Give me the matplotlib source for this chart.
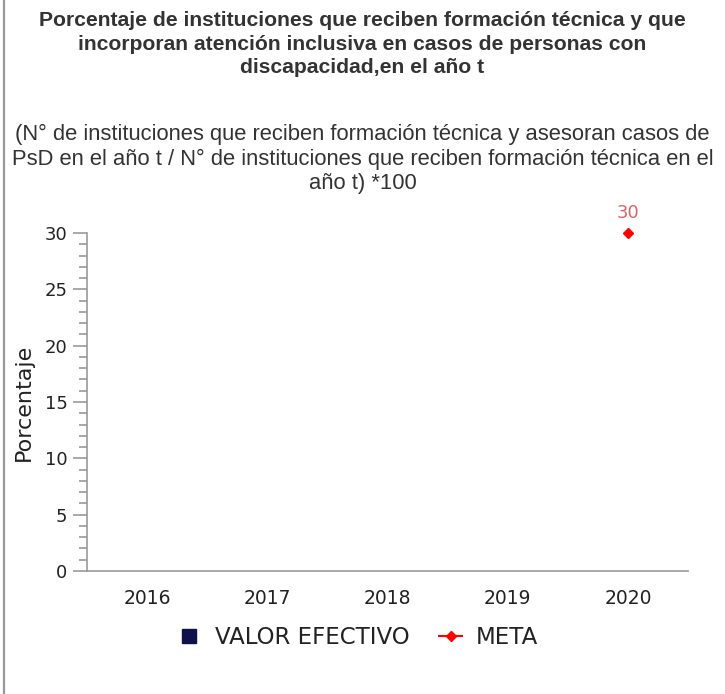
import numpy as np
import matplotlib.pyplot as plt
from matplotlib.lines import Line2D
from matplotlib.ticker import MultipleLocator

years = ["2016", "2017", "2018", "2019", "2020"]
valor_efectivo = [np.nan, np.nan, np.nan, np.nan, np.nan]
meta = [np.nan, np.nan, np.nan, np.nan, 30]

title = ("Porcentaje de instituciones que reciben formación técnica y que\n"
         "incorporan atención inclusiva en casos de personas con\n"
         "discapacidad,en el año t")
subtitle = ("(N° de instituciones que reciben formación técnica y asesoran casos de\n"
            "PsD en el año t / N° de instituciones que reciben formación técnica en el\n"
            "año t) *100")

fig = plt.figure(figsize=(7.25, 6.94), dpi=100)
fig.patch.set_facecolor("white")

# left border of the frame
fig.add_artist(Line2D([3.5 / 725, 3.5 / 725], [0, 1], color="#999999", lw=1.6))

fig.text(0.5, 1 - 44 / 694, title, ha="center", va="center",
         family="Liberation Sans", weight="bold", fontsize=15.2, color="#333333",
         linespacing=1.28)
fig.text(0.5, 1 - 159 / 694, subtitle, ha="center", va="center",
         family="Liberation Sans", fontsize=15.8, color="#333333",
         linespacing=1.24)

ax = fig.add_axes([87 / 725, 123 / 694, 601 / 725, 338 / 694])
x = np.arange(len(years))

ax.bar(x, valor_efectivo, width=0.6, color="#10104a")
ax.plot(x, meta, color="red", marker="D", markersize=5, lw=1.5, clip_on=False)
for xi, v in zip(x, meta):
    if not np.isnan(v):
        ax.text(xi, v + 1.0, f"{v:g}", ha="center", va="bottom",
                color="#d96666", fontsize=13)

ax.set_xlim(-0.5, 4.5)
ax.set_ylim(0, 30)
ax.set_xticks(x)
ax.set_xticklabels(years)
ax.yaxis.set_major_locator(MultipleLocator(5))
ax.yaxis.set_minor_locator(MultipleLocator(1))

for side in ["top", "right"]:
    ax.spines[side].set_visible(False)
for side in ["left", "bottom"]:
    ax.spines[side].set_color("#999999")
    ax.spines[side].set_linewidth(1.2)

ax.tick_params(axis="x", length=0, pad=13, labelsize=13.5, labelcolor="#222222")
ax.tick_params(axis="y", which="major", length=10, width=1.2, color="#999999",
               labelsize=13, labelcolor="#222222", pad=4)
ax.tick_params(axis="y", which="minor", length=6, width=1.2, color="#999999")
ax.set_ylabel("Porcentaje", fontsize=16, color="#222222", labelpad=8)

handles = [
    Line2D([], [], ls="none", marker="s", markersize=10, color="#10104a"),
    Line2D([], [], color="red", marker="D", markersize=5, lw=1.5),
]
fig.legend(handles, ["VALOR EFECTIVO", "META"], loc="center",
           bbox_to_anchor=(358 / 725, 1 - 638 / 694), ncol=2, frameon=False,
           fontsize=16.5, handlelength=1.0, handletextpad=0.6,
           columnspacing=1.3, labelcolor="#222222")

fig.savefig("out.png", dpi=100, facecolor="white")
